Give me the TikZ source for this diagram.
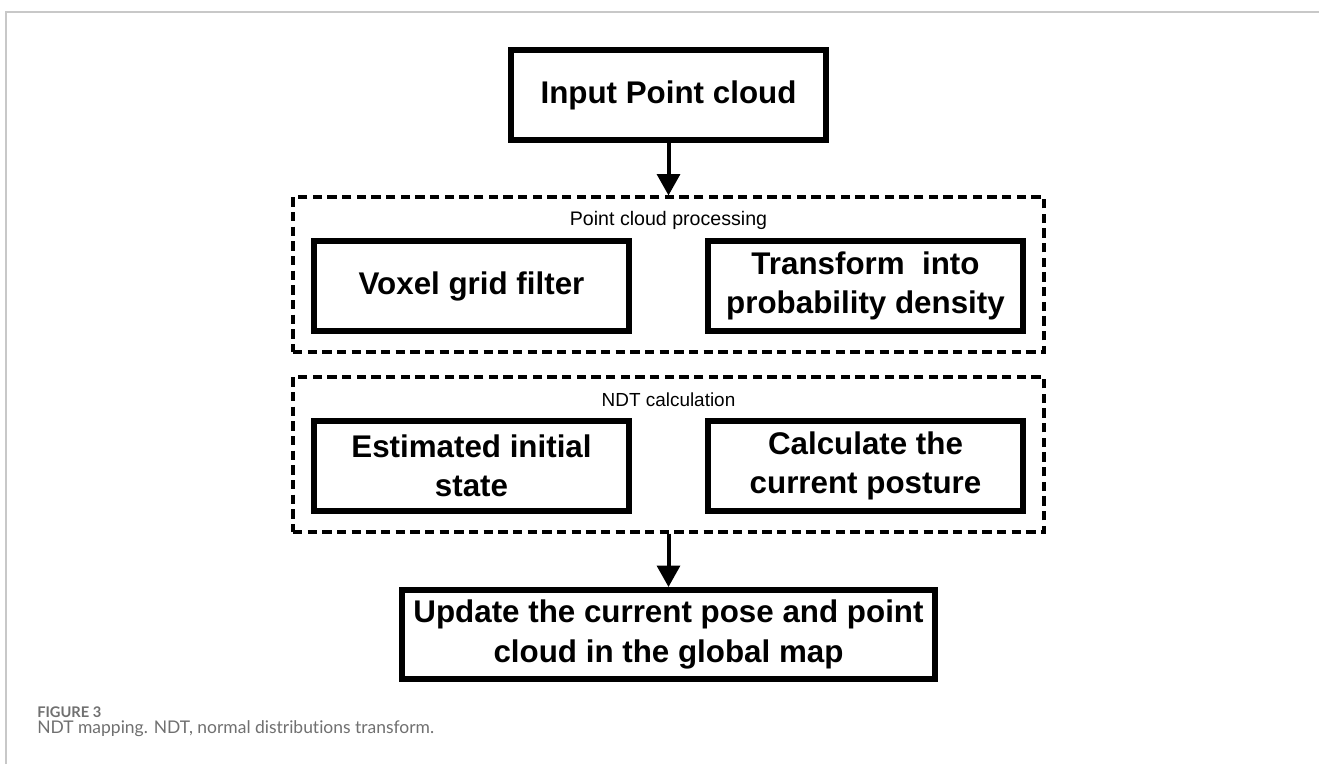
\documentclass[tikz,border=0pt]{standalone}
\usepackage{fontspec}
\setmainfont{Liberation Sans}
\newfontfamily\capfont[Ligatures=NoCommon]{Lato}
\usetikzlibrary{arrows.meta}
\definecolor{framegray}{HTML}{C8C8C8}
\definecolor{capgray}{HTML}{707070}
\begin{document}
\begin{tikzpicture}[x=0.75pt,y=-0.75pt,
  solidbox/.style={draw=black, line width=4.5pt, fill=white, align=center, inner sep=0pt,
    font=\fontsize{23.5}{29.25}\selectfont\bfseries},
  groupbox/.style={draw=black, line width=2.3pt, dash pattern=on 7pt off 4pt, inner sep=0pt},
  grouplabel/.style={font=\fontsize{14.2}{16}\selectfont, inner sep=0pt},
  flow/.style={line width=3pt, -{Triangle[width=17pt,length=16pt]}},
  frameline/.style={draw=framegray, line width=1.2pt}]
\useasboundingbox (0,0) rectangle (1319,764);
\fill[white] (0,0) rectangle (1319,764);
% page frame
\coordinate (fa) at (6,764);
\coordinate (fb) at (6,12);
\coordinate (fc) at (1319,12);
\draw[frameline] (fa) -- (fb) -- (fc);
% group boxes
\node[groupbox, minimum width=563.25pt, minimum height=116.25pt] (pcp) at (668.5,274.5) {};
\node[groupbox, minimum width=563.25pt, minimum height=116.25pt] (ndt) at (668.5,454.5) {};
\node[grouplabel, font=\fontsize{14.7}{16}\selectfont] (pcpl) at (668.5,220) {Point cloud processing};
\node[grouplabel] (ndtl) at (668.5,399.5) {NDT calculation};
% boxes
\node[solidbox, minimum width=236.25pt, minimum height=67.5pt] (inp) at (668.5,95) {Input Point cloud};
\node[solidbox, minimum width=236.25pt, minimum height=67.5pt] (vox) at (471.5,286) {Voxel grid filter};
\node[solidbox, minimum width=236.25pt, minimum height=67.5pt] (tra) at (865.5,286) {Transform\ \ into\\probability density};
\node[solidbox, minimum width=236.25pt, minimum height=67.5pt] (est) at (471.5,466) {Estimated initial\\state};
\node[solidbox, minimum width=236.25pt, minimum height=67.5pt] (cal) at (865.5,466) {Calculate the\\current posture};
\node[solidbox, minimum width=399.75pt, minimum height=66.75pt,
  font=\fontsize{23.5}{30}\selectfont\bfseries] (upd) at (668.5,634.5) {Update the current pose and point\\cloud in the global map};
% connectors
\draw[flow] (inp.south) -- (pcp.north);
\draw[flow] (ndt.south) -- (upd.north);
% caption
\node[anchor=west, inner sep=0pt, text=capgray, font=\capfont\fontsize{11}{12}\selectfont\bfseries] (figno) at (37,712) {FIGURE 3};
\node[anchor=west, inner sep=0pt, text=capgray, font=\capfont\fontsize{13.1}{14}\selectfont] (cap) at (37,728.5) {NDT mapping. NDT, normal distributions transform.};
\end{tikzpicture}
\end{document}
